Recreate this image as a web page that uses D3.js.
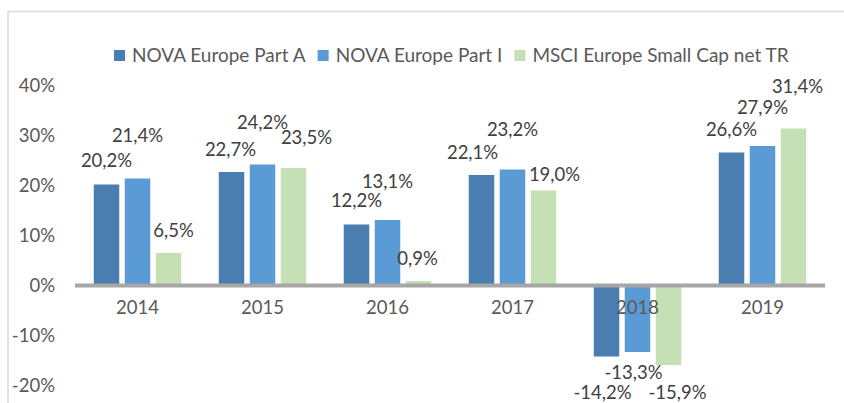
<!DOCTYPE html>
<html>
<head>
<meta charset="utf-8">
<script src="https://cdn.jsdelivr.net/npm/d3@7"></script>
<style>
  html, body { margin: 0; padding: 0; background: #fff; }
  svg { display: block; font-family: Lato, "Liberation Sans", sans-serif; }
</style>
</head>
<body>
<script>
// values (percent)
const years = ['2014', '2015', '2016', '2017', '2018', '2019']
const seriesNames = ['NOVA Europe Part A', 'NOVA Europe Part I', 'MSCI Europe Small Cap net TR']
const partA = [20.2, 22.7, 12.2, 22.1, -14.2, 26.6]
const partI = [21.4, 24.2, 13.1, 23.2, -13.3, 27.9]
const msci = [6.5, 23.5, 0.9, 19.0, -15.9, 31.4]
const yTicks = [-20, -10, 0, 10, 20, 30, 40]

// label nudges (px) so the labels sit where the original put them
const labelDx = [[0, -1, 0, -9, -4, 0], [0, 0, 0, 0, -4, 0], [5, 13, -1, 11, 9, 4]]
const labelDy = [[-24, -22, -24, -22, 36, -23], [-43, -42, -38, -40, 21, -38], [-22, -30, -22, -16, 28, -42]]

const colors = ['#4a7eb0', '#5b9bd5', '#c5e0b4']
const width = 844
const height = 403

const series = [partA, partI, msci]
const locale = d3.formatLocale({ decimal: ',', thousands: ' ', grouping: [3], currency: ['', ''], minus: '-' })
const fmt = (v) => locale.format('.1f')(v) + '%'

const svg = d3.select('body').append('svg')
  .attr('width', width)
  .attr('height', height)

// chart frame
svg.append('rect')
  .attr('x', 8)
  .attr('y', 11.5)
  .attr('width', 860)
  .attr('height', 420)
  .attr('fill', 'none')
  .attr('stroke', '#d9d9d9')
  .attr('stroke-width', 1.5)

const x0 = d3.scaleBand().domain(years).range([75, 825])
const x1 = d3.scaleBand().domain(d3.range(3)).range([0, x0.bandwidth()])
  .paddingInner(0.177).paddingOuter(0.605)
const y = d3.scaleLinear().domain([-20, 40]).range([385.5, 85.5])

// y axis, labels only
const yAxis = d3.axisLeft(y).tickValues(yTicks).tickSize(0).tickPadding(0)
  .tickFormat((d) => d + '%')
svg.append('g')
  .attr('transform', 'translate(55,0)')
  .call(yAxis)
  .call((g) => g.select('.domain').remove())
  .selectAll('text')
  .attr('fill', '#595959')
  .style('font-size', '18.5px')
  .style('font-family', 'Lato, "Liberation Sans", sans-serif')

// bars
const group = svg.selectAll('.year')
  .data(years)
  .enter()
  .append('g')
  .attr('class', 'year')
  .attr('transform', (d) => `translate(${x0(d)},0)`)

group.selectAll('rect')
  .data((d, i) => series.map((s, k) => ({ k: k, i: i, v: s[i] })))
  .enter()
  .append('rect')
  .attr('x', (d) => x1(d.k))
  .attr('width', x1.bandwidth())
  .attr('y', (d) => y(Math.max(0, d.v)))
  .attr('height', (d) => Math.abs(y(d.v) - y(0)))
  .attr('fill', (d) => colors[d.k])

// zero line
svg.append('line')
  .attr('x1', x0.range()[0])
  .attr('x2', x0.range()[1])
  .attr('y1', y(0))
  .attr('y2', y(0))
  .attr('stroke', '#a6a6a6')
  .attr('stroke-width', 4)

// category labels (drawn over the bars like the original)
const xAxis = d3.axisBottom(x0).tickSize(0).tickPadding(0)
svg.append('g')
  .attr('transform', `translate(0,${y(0) + 22})`)
  .call(xAxis)
  .call((g) => g.select('.domain').remove())
  .selectAll('text')
  .attr('dy', '0.35em')
  .attr('fill', '#595959')
  .style('font-size', '18.5px')
  .style('font-family', 'Lato, "Liberation Sans", sans-serif')

// data labels
group.selectAll('.lbl')
  .data((d, i) => series.map((s, k) => ({ k: k, i: i, v: s[i] })))
  .enter()
  .append('text')
  .attr('class', 'lbl')
  .attr('x', (d) => x1(d.k) + x1.bandwidth() / 2 + labelDx[d.k][d.i])
  .attr('y', (d) => y(d.v) + labelDy[d.k][d.i])
  .attr('dy', '0.35em')
  .attr('text-anchor', 'middle')
  .attr('fill', '#404040')
  .style('font-size', '18.5px')
  .text((d) => fmt(d.v))

// legend
const legend = svg.append('g').attr('transform', 'translate(114,50)')
let lx = 0
seriesNames.forEach((name, k) => {
  legend.append('rect')
    .attr('x', lx)
    .attr('y', 0)
    .attr('width', 11)
    .attr('height', 11)
    .attr('fill', colors[k])
  const t = legend.append('text')
    .attr('x', lx + 18)
    .attr('y', 5.5)
    .attr('dy', '0.35em')
    .attr('fill', '#595959')
    .style('font-size', '19px')
    .text(name)
  lx += 18 + t.node().getComputedTextLength() + 12
})
</script>
</body>
</html>
